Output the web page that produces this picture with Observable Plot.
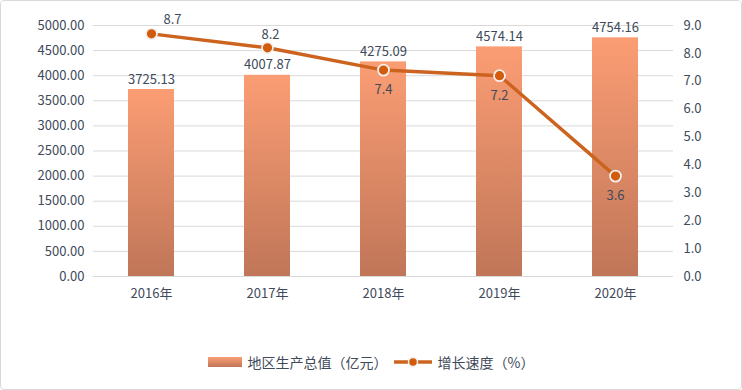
<!DOCTYPE html>
<html><head><meta charset="utf-8">
<script src="https://cdn.jsdelivr.net/npm/d3@7"></script>
<script src="https://cdn.jsdelivr.net/npm/@observablehq/plot@0.6"></script>
<style>
body{margin:0;background:#fff;}
#wrap{position:relative;width:740px;height:388px;border:1px solid #d9d9d9;border-radius:4px;overflow:hidden;font-family:"Noto Sans CJK SC","Noto Sans",sans-serif;}
#legend{position:absolute;top:351px;left:0;width:740px;display:flex;justify-content:center;align-items:center;font-size:14px;color:#404a5a;gap:6px;}
</style></head><body>
<div id="wrap"><div id="chart"></div><div id="legend"></div></div>
<script>
const years = ["2016年","2017年","2018年","2019年","2020年"];
const gdp = [3725.13, 4007.87, 4275.09, 4574.14, 4754.16];
const growth = [8.7, 8.2, 7.4, 7.2, 3.6];
const leftTicks = [0,500,1000,1500,2000,2500,3000,3500,4000,4500,5000];
const rightTicks = [0,1,2,3,4,5,6,7,8,9];

const k = 5000/9;
const rows = years.map((y,i)=>({year:y, gdp:gdp[i], g:growth[i], gs:growth[i]*k, i}));
const txt = "#404a5a";

const defs = () => {
  const d = d3.create("svg:defs");
  const lg = d.append("linearGradient").attr("id","barGrad").attr("x1",0).attr("y1",0).attr("x2",0).attr("y2",1);
  lg.append("stop").attr("offset","0%").attr("stop-color","#fb9d74");
  lg.append("stop").attr("offset","100%").attr("stop-color","#c07658");
  return d.node();
};

const chart = Plot.plot({
  width: 740, height: 320,
  marginTop: 24, marginBottom: 45, marginLeft: 92, marginRight: 68,
  style: {fontFamily: '"Noto Sans CJK SC","Noto Sans",sans-serif', fontSize: "13px", color: txt, background: "#fff"},
  x: {domain: years, paddingInner: 0.6, paddingOuter: 0.3, label: null},
  y: {domain: [0, 5000], label: null},
  marks: [
    defs,
    Plot.ruleY(leftTicks, {stroke: "#d9d9d9", strokeWidth: 1}),
    Plot.axisY(leftTicks, {anchor: "left", tickSize: 0, tickPadding: 9, tickFormat: d => d.toFixed(2), label: null, fill: txt, fontSize: 13}),
    Plot.axisY(rightTicks.map(v=>v*k), {anchor: "right", tickSize: 0, tickPadding: 10, tickFormat: d => (d/k).toFixed(1), label: null, fill: txt, fontSize: 13}),
    Plot.axisX({tickSize: 0, tickPadding: 12, label: null, fill: txt, fontSize: 13}),
    Plot.barY(rows, {x: "year", y: "gdp", fill: "url(#barGrad)"}),
    Plot.text(rows, {x: "year", y: "gdp", text: d => d.gdp.toFixed(2), dy: -10, fill: txt, fontSize: 13}),
    Plot.line(rows, {x: "year", y: "gs", stroke: "#cc6420", strokeWidth: 3.5}),
    Plot.dot(rows, {x: "year", y: "gs", r: 5.5, fill: "#d35c0c", stroke: "#f4efec", strokeWidth: 1.8}),
    Plot.text(rows.filter(d=>d.i===0), {x: "year", y: "gs", text: d => d.g.toFixed(1), dy: -14, dx: 21, fill: txt, fontSize: 13}),
    Plot.text(rows.filter(d=>d.i===1), {x: "year", y: "gs", text: d => d.g.toFixed(1), dy: -13, dx: 3, fill: txt, fontSize: 13}),
    Plot.text(rows.filter(d=>d.i>=2), {x: "year", y: "gs", text: d => d.g.toFixed(1), dy: 20, fill: txt, fontSize: 13})
  ]
});
document.getElementById("chart").appendChild(chart);

const lgd = document.getElementById("legend");
lgd.innerHTML = `
<svg width="34" height="10"><defs><linearGradient id="lgGrad" x1="0" y1="0" x2="0" y2="1"><stop offset="0%" stop-color="#fb9d74"/><stop offset="100%" stop-color="#c07658"/></linearGradient></defs><rect width="34" height="10" fill="url(#lgGrad)"/></svg>
<span>地区生产总值（亿元）</span>
<svg width="38" height="12"><line x1="0" y1="6" x2="38" y2="6" stroke="#cc6420" stroke-width="3.5"/><circle cx="19" cy="6" r="4.5" fill="#d35c0c" stroke="#f4efec" stroke-width="1.5"/></svg>
<span>增长速度（%）</span>`;
</script>
</body></html>
